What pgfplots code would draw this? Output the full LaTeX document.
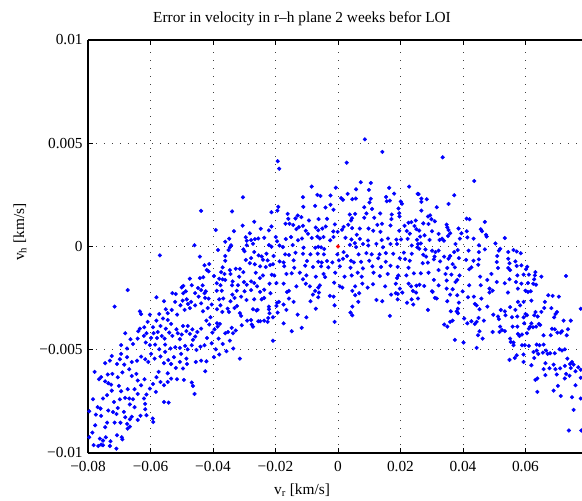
\documentclass[border=0pt]{standalone}
\usepackage{pgfplots}
\pgfplotsset{compat=1.18}
\usepackage{fontspec}
\setmainfont{Liberation Serif}
\begin{document}
\fontsize{11.5}{13.5}\selectfont
\begin{tikzpicture}
\begin{axis}[
  scale only axis,
  width=370.5pt, height=309.75pt,
  xmin=-0.08, xmax=0.0781, ymin=-0.01, ymax=0.01,
  axis x line*=box, axis y line*=left,
  axis line style={line width=0.8pt, black},
  tick align=inside, major tick length=3.75pt,
  tick style={black, line width=0.6pt},
  scaled ticks=false,
  xtick={-0.08,-0.06,-0.04,-0.02,0,0.02,0.04,0.06},
  xticklabels={−0.08,−0.06,−0.04,−0.02,0,0.02,0.04,0.06},
  ytick={-0.01,-0.005,0,0.005,0.01},
  yticklabels={−0.01,−0.005,0,0.005,0.01},
  ticklabel style={font=\fontsize{11.5}{13.5}\selectfont},
  xticklabel style={yshift=-2pt},
  grid=major,
  major grid style={black!75, line width=0.5pt, dash pattern=on 0.6pt off 5.4pt},
  title={Error in velocity in r\textendash h plane 2 weeks befor LOI},
  title style={at={(axis description cs:0.4332,1.032)}, anchor=center},
  xlabel={v\textsubscript{r} [km/s]},
  xlabel style={at={(axis description cs:0.4332,-0.0896)}, anchor=center},
  ylabel={v\textsubscript{h} [km/s]},
  ylabel style={at={(axis description cs:-0.1377,0.535)}, anchor=center},
  clip=true,
]
\addplot[only marks, mark=*, mark size=1.4pt, color=blue, mark options={fill=blue, draw=blue, line width=0.3pt}] coordinates {
(-0.0304,0.00238)(-0.0438,0.00173)(-0.0339,0.0017)(-0.0305,0.00101)(-0.0391,0.0008)(-0.0333,0.00074)(-0.0282,0.00064)(-0.0295,0.00045)(-0.0348,0.00038)(-0.0361,0.00023)
(-0.0292,0.00028)(-0.0278,0.00031)(-0.0459,0.00006)(-0.0292,0.00006)(-0.0342,0.00006)(-0.0346,-0.00004)(-0.0384,-0.00017)(-0.035,-0.00017)(-0.0303,-0.00014)(-0.0299,-0.00023)
(-0.057,-0.00043)(-0.0442,-0.00049)(-0.0361,-0.00046)(-0.0278,-0.00056)(-0.0361,-0.00069)(-0.0295,-0.00065)(-0.0282,-0.00081)(-0.0427,-0.00091)(-0.0412,-0.00085)(-0.042,-0.00114)
(-0.0414,-0.0012)(-0.0369,-0.00101)(-0.0327,-0.00108)(-0.0314,-0.00108)(-0.0346,-0.00114)(-0.0303,-0.00124)(-0.0374,-0.00124)(-0.0397,-0.00143)(-0.0363,-0.00133)(-0.0344,-0.00133)
(-0.0316,-0.00146)(-0.0431,-0.00149)(-0.0442,-0.00153)(-0.0474,-0.00156)(-0.038,-0.00156)(-0.0369,-0.00159)(-0.0361,-0.00162)(-0.0337,-0.00169)(-0.0301,-0.00172)(-0.0278,-0.00169)
(-0.0388,-0.00178)(-0.0376,-0.00188)(-0.0495,-0.00191)(-0.05,-0.00198)(-0.0468,-0.00188)(-0.0433,-0.00188)(-0.0448,-0.00201)(-0.0339,-0.00188)(-0.032,-0.00188)(-0.0292,-0.00185)
(-0.0673,-0.00211)(-0.0487,-0.00217)(-0.0438,-0.00211)(-0.0423,-0.00217)(-0.0388,-0.00214)(-0.0372,-0.00214)(-0.0324,-0.00214)(-0.0299,-0.00217)(-0.0278,-0.00211)
(0.0086,0.00519)(0.0142,0.00458)(-0.0193,0.00413)(-0.0188,0.00377)(0.0028,0.00406)(-0.0084,0.0029)(0.0073,0.00311)(0.0105,0.00308)(0.0228,0.0029)(-0.0007,0.00285)
(0.0058,0.00277)(0.0099,0.00274)(0.0164,0.00284)(0.0031,0.00255)(-0.0066,0.0025)(-0.0056,0.00245)(-0.0112,0.00239)(-0.0024,0.00247)(0.018,0.00256)(0.001,0.00234)
(0.0016,0.00226)(0.0046,0.00229)(0.0057,0.00232)(0.0105,0.00231)(0.0154,0.0024)(0.0166,0.00222)(0.0156,0.00219)(0.0255,0.00255)(-0.0073,0.00197)(-0.0111,0.00192)
(-0.0024,0.00202)(-0.004,0.00189)(-0.0014,0.00178)(0.0101,0.00213)(0.0084,0.0019)(0.0109,0.00182)(0.0201,0.00218)(0.0205,0.00207)(0.0194,0.00184)(-0.0191,0.00192)
(-0.0194,0.00174)(-0.0213,0.00166)(-0.0161,0.00158)(-0.0129,0.0015)(0.0038,0.00155)(0.0055,0.00158)(0.0091,0.0016)(0.0135,0.0016)(0.0172,0.00155)(0.0196,0.00161)
(-0.0159,0.00134)(-0.0136,0.00136)(-0.0117,0.00142)(-0.0093,0.00126)(-0.0062,0.00133)(-0.0035,0.00134)(0.0045,0.00137)(0.0042,0.00126)(0.0084,0.00139)(0.0116,0.00139)
(0.0171,0.00133)(0.0197,0.00145)(0.0226,0.00115)(0.0235,0.00118)(0.0249,0.00126)(-0.0268,0.0012)(-0.0168,0.0011)(-0.0155,0.0011)(-0.0143,0.00104)(-0.0125,0.00094)
(-0.0112,0.001)(-0.0213,0.00097)(-0.0071,0.00092)(-0.0063,0.00079)(-0.005,0.00087)(-0.0039,0.00097)(-0.001,0.00107)(0.0018,0.00095)(0.0033,0.00105)(0.0045,0.00089)
(0.007,0.00087)(0.0098,0.00087)(0.0126,0.00105)(0.0141,0.0011)(0.0168,0.00102)(0.0213,0.001)(0.0245,0.00099)(0.0251,0.00084)(-0.0247,0.00086)(-0.0221,0.00078)
(-0.0133,0.00084)(-0.0103,0.00076)(-0.0096,0.00062)(-0.0015,0.00073)(-0.0001,0.00071)(0.0013,0.00081)(0.006,0.00057)(0.0113,0.00076)(0.0136,0.00071)(0.0196,0.00076)
(0.022,0.00075)(0.023,0.00062)(-0.0266,0.00036)(-0.0255,0.00039)(-0.0236,0.00042)(-0.0199,0.00046)(-0.0195,0.00025)(-0.0167,0.00036)(-0.015,0.00046)(-0.0128,0.0003)
(-0.0115,0.00039)(-0.0084,0.00041)(-0.0066,0.00048)(-0.0058,0.00039)(-0.0046,0.00046)(-0.0025,0.0003)(-0.0014,0.00046)(0.0024,0.00042)(0.0043,0.00034)(0.007,0.00037)
(0.0096,0.00029)(0.014,0.00031)(0.016,0.00039)(0.0187,0.00033)(0.0202,0.00034)(0.0223,0.00037)(0.0253,0.00033)(-0.0272,0.00013)(-0.0221,0.00007)(-0.0213,-0.00001)
(-0.0187,0.00005)(-0.0176,-0.00003)(-0.0145,0.00007)(-0.011,-0.00006)(-0.0073,-0.00006)(-0.0063,-0.00001)(-0.0054,-0.00004)(-0.0044,-0.00012)(0.0038,0.00008)(0.0054,0.00016)
(0.0058,-0.00003)(0.008,0.00012)(0.0097,0.00005)(0.0123,0.00013)(0.0144,-0.00004)(0.0168,0.00012)(0.0189,0.00012)(0.0236,0.00005)(0.0254,-0.00004)(-0.0268,-0.00027)
(-0.0254,-0.00043)(-0.0244,-0.00048)(-0.0229,-0.00035)(-0.0206,-0.00046)(-0.0169,-0.00038)(-0.0157,-0.00041)(-0.0136,-0.0003)(-0.0112,-0.00035)(-0.0088,-0.00038)(-0.0065,-0.00035)
(-0.0045,-0.00038)(-0.0002,-0.00038)(0.0018,-0.00027)(0.0029,-0.00046)(0.0066,-0.00038)(0.0091,-0.00032)(0.0108,-0.00038)(0.0133,-0.00038)(0.0153,-0.00032)(0.0177,-0.00035)
(0.0211,-0.0003)(0.0236,-0.00035)(-0.024,-0.00064)(-0.0225,-0.00067)(-0.0187,-0.00072)(-0.0174,-0.00077)(-0.0142,-0.00067)(-0.0099,-0.0007)(-0.0063,-0.00074)(-0.0052,-0.00077)
(-0.0035,-0.0007)(-0.0018,-0.00077)(0.0003,-0.00067)(0.0016,-0.00059)(0.0042,-0.00069)(0.0051,-0.00077)(0.0074,-0.00074)(0.01,-0.00069)(0.0129,-0.00057)(0.0153,-0.00074)
(0.0168,-0.00093)(0.0198,-0.00057)(0.0215,-0.00061)(0.023,-0.00069)(-0.0266,-0.00086)(-0.0249,-0.00096)(-0.0231,-0.00099)(-0.0217,-0.0009)(-0.0208,-0.00086)(-0.0172,-0.00096)
(-0.014,-0.00103)(-0.0105,-0.00093)(-0.008,-0.00099)(-0.0054,-0.00096)(-0.0031,-0.00101)(0.0006,-0.00096)(0.004,-0.00103)(0.008,-0.00106)(0.011,-0.00096)(0.0138,-0.00099)
(0.0191,-0.00099)(0.0226,-0.00103)(-0.0263,-0.00127)(-0.025,-0.00153)(-0.024,-0.0014)(-0.0212,-0.00137)(-0.0204,-0.0014)(-0.0165,-0.00133)(-0.0148,-0.0013)(-0.0122,-0.00127)
(-0.0112,-0.00159)(-0.0101,-0.0014)(-0.0071,-0.00146)(-0.0046,-0.00133)(-0.0041,-0.00148)(-0.0009,-0.00127)(0.0021,-0.00146)(0.0044,-0.0014)(0.0063,-0.00127)(0.0076,-0.00146)
(0.0114,-0.00127)(0.0134,-0.00143)(0.0159,-0.00133)(0.0189,-0.00153)(0.0193,-0.0014)(0.0219,-0.0014)(0.0243,-0.0013)(-0.0268,-0.00177)(-0.0259,-0.00193)(-0.0236,-0.00209)
(-0.0219,-0.0018)(-0.0197,-0.00177)(-0.0174,-0.0018)(-0.0133,-0.00193)(-0.0103,-0.0018)(-0.009,-0.00193)(-0.0063,-0.00199)(-0.0058,-0.00188)(-0.0012,-0.00175)(0.0006,-0.00193)
(0.0014,-0.00199)(0.0055,-0.00193)(0.0078,-0.0018)(0.0095,-0.00199)(0.0112,-0.00183)(0.0151,-0.00193)(0.0185,-0.0018)(0.0198,-0.00204)(0.0226,-0.0018)(0.0234,-0.00193)
(0.0251,-0.0019)(0.024,-0.00215)(-0.0157,-0.00215)(-0.0073,-0.00215)(0.0046,-0.00215)
(-0.0216,-0.00226)(-0.0249,-0.0022)(-0.0268,-0.00256)(-0.0272,-0.00304)(-0.0261,-0.0031)(-0.0257,-0.00307)(-0.0244,-0.00256)(-0.0236,-0.00249)(-0.0221,-0.00291)(-0.0221,-0.00304)
(-0.0219,-0.00323)(-0.0223,-0.00346)(-0.0208,-0.00343)(-0.0255,-0.00362)(-0.0249,-0.00362)(-0.0236,-0.00359)(-0.0225,-0.00365)(-0.0272,-0.00388)(-0.0197,-0.00288)(-0.0195,-0.00272)
(-0.0189,-0.00268)(-0.0174,-0.00281)(-0.0193,-0.0032)(-0.0165,-0.00307)(-0.0157,-0.00252)(-0.0163,-0.0022)(-0.0142,-0.00268)(-0.0174,-0.00372)(-0.0129,-0.0033)(-0.0148,-0.0041)
(-0.0116,-0.00394)(-0.0208,-0.00456)(-0.0101,-0.00343)(-0.0088,-0.00265)(-0.008,-0.00233)(-0.0063,-0.00246)(-0.0061,-0.00223)(-0.0071,-0.00301)(-0.0026,-0.00239)(-0.0014,-0.00243)
(-0.0011,-0.00285)(-0.0011,-0.00365)(0.004,-0.0032)(0.0046,-0.00333)(0.0046,-0.00291)(0.0065,-0.00268)(0.0055,-0.00236)(0.0068,-0.00226)(0.0123,-0.00259)(0.0142,-0.00265)
(0.0166,-0.00336)(0.017,-0.00233)(0.0185,-0.00226)(0.0191,-0.00256)(0.0191,-0.0023)(0.0206,-0.00223)(0.0221,-0.00272)(0.0236,-0.00256)(0.0241,-0.00281)(0.025,-0.00223)
(0.0335,0.00432)(0.0436,0.00317)(0.0258,0.00254)(0.0267,0.00232)(0.0284,0.00229)(0.0267,0.00216)(0.0372,0.00248)(0.0354,0.00206)(0.0316,0.0019)(0.0267,0.00174)
(0.0288,0.00145)(0.0295,0.00151)(0.0299,0.00132)(0.031,0.00122)(0.0273,0.00112)(0.029,0.00109)(0.0348,0.00106)(0.035,0.00093)(0.0354,0.0008)(0.0359,0.00064)
(0.0352,0.00051)(0.0333,0.00038)(0.0339,0.00028)(0.0325,0.00032)(0.0322,0.00061)(0.0301,0.00074)(0.026,0.00077)(0.0277,0.00054)(0.0263,0.00048)(0.0293,0.00032)
(0.0412,0.00135)(0.0421,0.00132)(0.047,0.00119)(0.0457,0.00083)(0.0461,0.00074)(0.0474,0.00057)(0.0476,0.00048)(0.0412,0.00074)(0.0386,0.00087)(0.039,0.00038)
(0.0395,0.00064)(0.0414,0.00044)(0.0434,0.00038)(0.0534,0.00041)(0.0504,0.00015)(0.0256,0.00012)(0.0265,0.00015)(0.0376,0.00012)(0.0451,0.00006)(0.026,-0.00011)
(0.028,-0.00014)(0.0301,-0.0002)(0.0312,-0.00027)(0.0322,-0.0002)(0.0372,-0.00027)(0.0383,-0.00017)(0.0359,-0.00046)(0.0354,-0.00059)(0.0387,-0.00056)(0.0418,-0.0002)
(0.0451,-0.00027)(0.047,-0.00014)(0.0515,-0.0002)(0.0519,-0.00011)(0.0545,-0.00027)(0.0562,-0.00017)(0.0572,-0.00024)(0.0585,-0.00033)(0.0273,-0.0004)(0.0282,-0.00049)
(0.0309,-0.00049)(0.0307,-0.00062)(0.0327,-0.00072)(0.0271,-0.00081)(0.0288,-0.00078)(0.034,-0.00049)(0.0367,-0.00085)(0.035,-0.00104)(0.0374,-0.00101)(0.041,-0.00065)
(0.0434,-0.00069)(0.0451,-0.00062)(0.0449,-0.00088)(0.0427,-0.00101)(0.051,-0.00046)(0.0508,-0.00075)(0.0512,-0.00104)(0.0491,-0.00133)(0.0545,-0.00059)(0.0549,-0.00081)
(0.0545,-0.00104)(0.0551,-0.00114)(0.0568,-0.00072)(0.0572,-0.00094)(0.0587,-0.00091)(0.0602,-0.0011)(0.0606,-0.00098)(0.0594,-0.00136)(0.0574,-0.0014)(0.0611,-0.00136)
(0.0632,-0.00124)(0.063,-0.0014)(0.0651,-0.00146)(0.073,-0.00143)(0.0265,-0.0013)(0.029,-0.00127)(0.0322,-0.00114)(0.0344,-0.00133)(0.0363,-0.00136)(0.0389,-0.0014)
(0.042,-0.0011)(0.0455,-0.00146)(0.0478,-0.00162)(0.0549,-0.00159)(0.0534,-0.00178)(0.0508,-0.00172)(0.057,-0.00172)(0.0587,-0.0018)(0.0608,-0.00177)(0.0628,-0.00159)
(0.0625,-0.0018)(0.0634,-0.00185)(0.0261,-0.00185)(0.0276,-0.00191)(0.0307,-0.00162)(0.0322,-0.00188)(0.0348,-0.00165)(0.0376,-0.00172)(0.0382,-0.00162)(0.042,-0.00188)
(0.0457,-0.00188)(0.0348,-0.00204)(0.0367,-0.00207)(0.0399,-0.00217)(0.0485,-0.00204)(0.0495,-0.00214)(0.0576,-0.00204)(0.06,-0.00214)(0.0617,-0.00217)(0.0301,-0.00217)
(0.0256,-0.00252)(0.031,-0.00249)(0.0316,-0.00252)(0.0303,-0.0022)(0.0359,-0.00233)(0.0382,-0.00236)(0.0416,-0.00246)(0.0435,-0.00243)(0.0459,-0.00252)(0.0485,-0.00223)
(0.0544,-0.00223)(0.0608,-0.0022)(0.0673,-0.00236)(0.0687,-0.00239)(0.0707,-0.00243)(0.035,-0.00265)(0.0387,-0.00272)(0.0438,-0.00278)(0.0444,-0.00285)(0.0384,-0.00301)
(0.0453,-0.00304)(0.0478,-0.00291)(0.0288,-0.00307)(0.0361,-0.00314)(0.038,-0.00314)(0.0384,-0.00323)(0.0404,-0.00349)(0.0367,-0.00359)(0.0359,-0.00365)(0.034,-0.00378)
(0.035,-0.00388)(0.0374,-0.00452)(0.0402,-0.00465)(0.0414,-0.00372)(0.0427,-0.00362)(0.0438,-0.00375)(0.0444,-0.00365)(0.045,-0.00346)(0.0467,-0.00359)(0.0444,-0.00491)
(0.0448,-0.0043)(0.0453,-0.0041)(0.0463,-0.00446)(0.0495,-0.00414)(0.0497,-0.0033)(0.0512,-0.00339)(0.0515,-0.00352)(0.0521,-0.00307)(0.0534,-0.00314)(0.0536,-0.00333)
(0.0551,-0.00294)(0.0557,-0.00343)(0.0568,-0.00307)(0.0574,-0.00339)(0.0576,-0.00268)(0.0594,-0.00268)(0.0583,-0.00285)(0.06,-0.00327)(0.0594,-0.00343)(0.0605,-0.00333)
(0.0619,-0.00262)(0.0632,-0.00317)(0.0639,-0.00339)(0.0628,-0.00333)(0.0651,-0.00317)(0.0662,-0.00268)(0.066,-0.00298)(0.0683,-0.00298)(0.0692,-0.00343)(0.0696,-0.00327)
(0.0701,-0.00317)(0.0722,-0.00359)(0.0745,-0.00359)(0.0777,-0.00301)(0.0519,-0.00388)(0.0517,-0.00414)(0.0525,-0.00404)(0.0534,-0.0041)(0.0551,-0.00446)(0.0553,-0.00462)
(0.0562,-0.00465)(0.0559,-0.00388)(0.0574,-0.00388)(0.0576,-0.00423)(0.0581,-0.00433)(0.0589,-0.00426)(0.0596,-0.00372)(0.0605,-0.0042)(0.0615,-0.00388)(0.0611,-0.00398)
(0.0619,-0.00372)(0.0624,-0.00391)(0.0634,-0.00388)(0.0643,-0.00375)(0.0647,-0.0038)(0.0658,-0.0043)(0.0681,-0.0043)(0.0685,-0.00398)(0.0694,-0.00401)(0.0702,-0.00417)
(0.0713,-0.00417)(0.0717,-0.0041)(0.0732,-0.0043)(0.0736,-0.00401)(0.0562,-0.00478)(0.0589,-0.00478)(0.0598,-0.00478)(0.0611,-0.00481)(0.0636,-0.00475)(0.0645,-0.00478)
(0.0658,-0.00475)(0.0549,-0.00549)(0.0566,-0.0054)(0.0572,-0.00527)(0.0594,-0.00523)(0.0594,-0.00559)(0.0619,-0.00575)(0.0628,-0.0054)(0.0626,-0.00511)(0.0636,-0.00504)
(0.0641,-0.0052)(0.0656,-0.00514)(0.0666,-0.00504)(0.0671,-0.0052)(0.0679,-0.00517)(0.0694,-0.00517)(0.0709,-0.00498)(0.0717,-0.00504)(0.0726,-0.00498)(0.0734,-0.00543)
(0.0749,-0.00559)(0.0743,-0.00569)(0.0754,-0.00572)(0.0769,-0.00585)(0.0664,-0.00565)(0.069,-0.00572)(0.0658,-0.00594)(0.0664,-0.00623)(0.0677,-0.0059)(0.0696,-0.00594)
(0.07,-0.0062)(0.0711,-0.0059)(0.0726,-0.00578)(0.073,-0.00617)(0.0745,-0.00588)(0.0741,-0.00626)(0.076,-0.00604)(0.0777,-0.00636)(0.0777,-0.00597)(0.069,-0.00698)
(0.0638,-0.00639)(0.0632,-0.00646)(0.0638,-0.00704)(0.0704,-0.00675)(0.0713,-0.00724)(0.0726,-0.00639)(0.0749,-0.0073)(0.076,-0.00672)(0.0777,-0.00736)(0.0754,-0.00791)
(0.0739,-0.00891)(0.0779,-0.00891)
(-0.0581,-0.00246)(-0.053,-0.00226)(-0.0519,-0.0023)(-0.0495,-0.00226)(-0.0484,-0.00256)(-0.0457,-0.00226)(-0.0427,-0.00226)(-0.0446,-0.00243)(-0.0425,-0.00249)(-0.0414,-0.00252)
(-0.038,-0.00256)(-0.0367,-0.00252)(-0.0338,-0.00233)(-0.0331,-0.00249)(-0.031,-0.00243)(-0.0293,-0.00259)(-0.0344,-0.00265)(-0.0715,-0.00291)(-0.0634,-0.00314)(-0.063,-0.00327)
(-0.0602,-0.0033)(-0.0557,-0.00265)(-0.0551,-0.00304)(-0.0572,-0.00327)(-0.0545,-0.00323)(-0.0532,-0.00307)(-0.0521,-0.00268)(-0.0515,-0.0033)(-0.0504,-0.00285)(-0.0497,-0.00262)
(-0.0491,-0.00307)(-0.048,-0.00278)(-0.0474,-0.00298)(-0.047,-0.00268)(-0.0457,-0.00285)(-0.0438,-0.00275)(-0.0432,-0.00314)(-0.0417,-0.00298)(-0.0404,-0.00281)(-0.0387,-0.00304)
(-0.0376,-0.00285)(-0.037,-0.00317)(-0.0353,-0.00301)(-0.0349,-0.00317)(-0.0331,-0.00298)(-0.0323,-0.00288)(-0.0314,-0.00323)(-0.031,-0.00336)(-0.0308,-0.00381)(-0.0291,-0.00359)
(-0.0278,-0.00356)(-0.0276,-0.00378)(-0.0421,-0.00359)(-0.0408,-0.00343)(-0.0412,-0.00378)(-0.0402,-0.00417)(-0.0395,-0.00401)(-0.0387,-0.00372)(-0.0385,-0.00388)(-0.0378,-0.00375)
(-0.0361,-0.0042)(-0.0352,-0.00414)(-0.034,-0.00394)(-0.0336,-0.0042)(-0.0327,-0.00407)(-0.045,-0.00414)(-0.0438,-0.00398)(-0.0457,-0.00436)(-0.0464,-0.00452)(-0.0481,-0.00385)
(-0.0474,-0.00423)(-0.0466,-0.00401)(-0.0496,-0.00385)(-0.0485,-0.0041)(-0.05,-0.00426)(-0.0506,-0.00449)(-0.0517,-0.00401)(-0.0513,-0.0042)(-0.0534,-0.00375)(-0.0545,-0.00356)
(-0.056,-0.00349)(-0.0568,-0.00385)(-0.0551,-0.00398)(-0.054,-0.00417)(-0.053,-0.00433)(-0.0555,-0.00446)(-0.0577,-0.00414)(-0.0579,-0.00443)(-0.0592,-0.00391)(-0.0598,-0.00443)
(-0.0613,-0.0042)(-0.0621,-0.00433)(-0.0634,-0.00398)(-0.0639,-0.0041)(-0.0681,-0.0042)(-0.0641,-0.00446)(-0.0656,-0.00472)(-0.0615,-0.00465)(-0.0602,-0.00478)(-0.0585,-0.00475)
(-0.0572,-0.00498)(-0.0553,-0.00475)(-0.0536,-0.00494)(-0.0521,-0.00488)(-0.0506,-0.00491)(-0.0489,-0.00481)(-0.0481,-0.00498)(-0.0468,-0.00478)(-0.0453,-0.00501)(-0.044,-0.00485)
(-0.0455,-0.00559)(-0.0438,-0.00553)(-0.0421,-0.00556)(-0.0425,-0.00604)(-0.038,-0.00523)(-0.0397,-0.00536)(-0.0357,-0.00507)(-0.0314,-0.00543)(-0.0724,-0.0053)(-0.0694,-0.0052)
(-0.0698,-0.00546)(-0.0675,-0.00536)(-0.073,-0.00553)(-0.0745,-0.00565)(-0.0707,-0.00569)(-0.0684,-0.00572)(-0.066,-0.00559)(-0.0643,-0.00553)(-0.063,-0.00533)(-0.0617,-0.00546)
(-0.0607,-0.00559)(-0.0598,-0.0052)(-0.0587,-0.00543)(-0.0568,-0.00533)(-0.0557,-0.00565)(-0.0574,-0.00607)(-0.0543,-0.0055)(-0.0534,-0.00569)(-0.0525,-0.00536)(-0.0519,-0.00588)
(-0.0506,-0.00559)(-0.0496,-0.00591)(-0.0485,-0.00543)(-0.0483,-0.00569)(-0.0545,-0.00614)(-0.0545,-0.00656)(-0.0534,-0.0064)(-0.0515,-0.00643)(-0.0493,-0.00646)(-0.0468,-0.00659)
(-0.0464,-0.00675)(-0.0459,-0.00714)(-0.0581,-0.00633)(-0.0568,-0.00656)(-0.0557,-0.00672)(-0.0592,-0.00666)(-0.0602,-0.00688)(-0.0583,-0.00704)(-0.0542,-0.00756)(-0.0557,-0.00753)
(-0.0779,-0.00607)(-0.0765,-0.00643)(-0.0758,-0.00633)(-0.0745,-0.00653)(-0.0737,-0.0062)(-0.0722,-0.00617)(-0.0705,-0.00633)(-0.069,-0.0061)(-0.0668,-0.00594)(-0.066,-0.00627)
(-0.0645,-0.00617)(-0.0641,-0.00649)(-0.063,-0.00672)(-0.0619,-0.00643)(-0.0735,-0.00662)(-0.0726,-0.00669)(-0.0701,-0.00675)(-0.0694,-0.00701)(-0.0673,-0.00691)(-0.0651,-0.00691)
(-0.0641,-0.00714)(-0.0613,-0.00717)(-0.0621,-0.00736)(-0.0784,-0.0074)(-0.0752,-0.00736)(-0.0739,-0.0072)(-0.0724,-0.00698)(-0.0717,-0.00753)(-0.0698,-0.0074)(-0.0681,-0.00733)
(-0.0668,-0.00736)(-0.0656,-0.0074)(-0.0666,-0.00765)(-0.0651,-0.00778)(-0.0617,-0.00762)(-0.0617,-0.00788)(-0.0613,-0.00817)(-0.0593,-0.00833)(-0.0591,-0.0085)(-0.0632,-0.0082)
(-0.0641,-0.0084)(-0.0769,-0.00778)(-0.076,-0.00785)(-0.0796,-0.00798)(-0.0775,-0.00814)(-0.0758,-0.0082)(-0.0735,-0.00794)(-0.072,-0.00801)(-0.0705,-0.00782)(-0.0709,-0.00811)
(-0.0685,-0.00801)(-0.0681,-0.00827)(-0.0666,-0.00837)(-0.066,-0.00824)(-0.0675,-0.00859)(-0.0666,-0.00872)(-0.0673,-0.00882)(-0.0696,-0.00853)(-0.0715,-0.00853)(-0.0739,-0.00853)
(-0.0745,-0.00875)(-0.0777,-0.00866)(-0.0786,-0.00901)(-0.0796,-0.00924)(-0.0762,-0.0093)(-0.0752,-0.0094)(-0.0743,-0.00924)(-0.0707,-0.00914)(-0.0692,-0.00924)(-0.069,-0.00934)
(-0.0782,-0.00962)(-0.0767,-0.00966)(-0.0758,-0.00959)(-0.0752,-0.00962)(-0.073,-0.00966)(-0.0709,-0.00979)(-0.0728,-0.00943)
(-0.0391,-0.00498)(-0.0404,-0.00469)(-0.0382,-0.00446)(-0.0369,-0.00472)(-0.0346,-0.00456)(-0.0335,-0.00494)(-0.0419,-0.00443)(-0.0427,-0.00478)(-0.0502,-0.0052)(-0.0553,-0.0051)
(-0.0675,-0.00494)(-0.0694,-0.00478)(-0.0664,-0.00449)(-0.059,-0.0042)(-0.0564,-0.00433)(-0.0609,-0.00365)(-0.0581,-0.00359)(-0.062,-0.00391)
};
\addplot[only marks, mark=*, mark size=1.4pt, color=red, mark options={fill=red, draw=red, line width=0.3pt}] coordinates {(0,0)};
\end{axis}
\pgfresetboundingbox
\path[use as bounding box] ([xshift=-66pt,yshift=-35.25pt]current axis.south west) rectangle ([yshift=30pt]current axis.north east);
\end{tikzpicture}
\end{document}
